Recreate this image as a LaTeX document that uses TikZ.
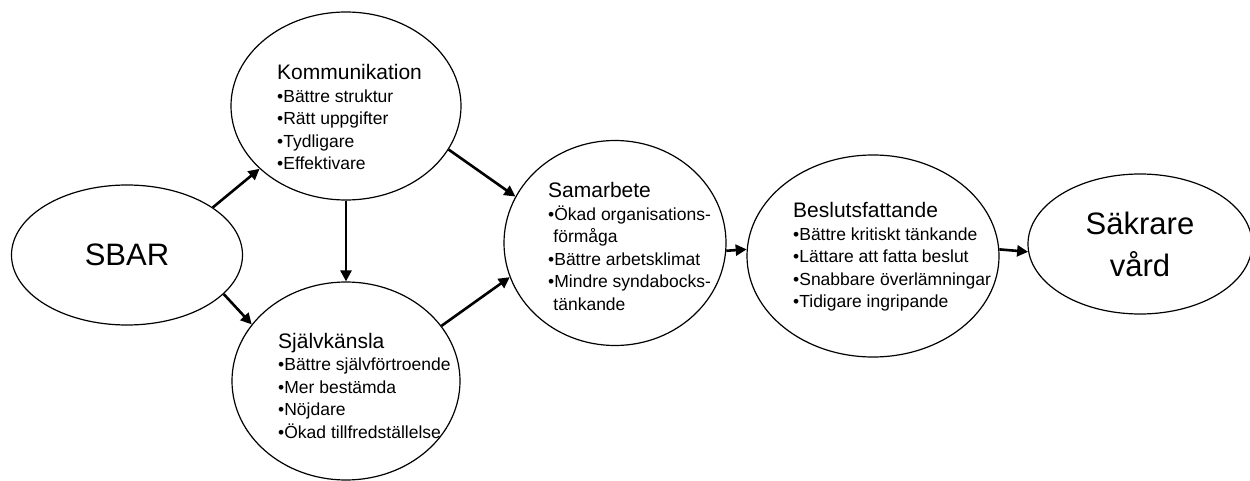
\documentclass[tikz,border=0pt]{standalone}
\usepackage{fontspec}
\setmainfont{Liberation Sans}
\usetikzlibrary{shapes.geometric,arrows.meta}
\begin{document}
\begin{tikzpicture}[x=1pt,y=-1pt,
  bubble/.style={draw, ellipse, line width=1.2pt, inner sep=0pt},
  conn/.style={line width=2.6pt, -{Triangle[length=11pt,width=11pt]}},
  blk/.style={anchor=base west, inner sep=0pt, font=\fontsize{17.5}{22.5}\selectfont}
]
\useasboundingbox (0,0) rectangle (1250,481);

% bubbles
\node[bubble, minimum width=231pt, minimum height=140pt, font=\fontsize{31}{36}\selectfont] (sbar) at (127,255) {SBAR};
\node[bubble, minimum width=230pt, minimum height=188pt] (komm) at (346,106) {};
\node[bubble, minimum width=228pt, minimum height=198pt] (selv) at (346,381) {};
\node[bubble, minimum width=222pt, minimum height=205pt] (sam) at (615,243) {};
\node[bubble, minimum width=252pt, minimum height=202pt] (besl) at (873,256) {};
\node[bubble, minimum width=224pt, minimum height=140pt, align=center, font=\fontsize{31}{42}\selectfont] (sak) at (1140,244) {Säkrare\\vård};

% texts inside the bubbles
\node[blk] (kommtxt) at (277,80) {\begin{tabular}[t]{@{}l@{}}{\fontsize{21}{22.5}\selectfont Kommunikation}\\ •Bättre struktur\\ •Rätt uppgifter\\ •Tydligare\\ •Effektivare\end{tabular}};
\node[blk] (selvtxt) at (278,348) {\begin{tabular}[t]{@{}l@{}}{\fontsize{21}{22.5}\selectfont Självkänsla}\\ •Bättre självförtroende\\ •Mer bestämda\\ •Nöjdare\\ •Ökad tillfredställelse\end{tabular}};
\node[blk] (samtxt) at (548,198) {\begin{tabular}[t]{@{}l@{}}{\fontsize{21}{22.5}\selectfont Samarbete}\\ •Ökad organisations-\\ \hspace{0.3em}förmåga\\ •Bättre arbetsklimat\\ •Mindre syndabocks-\\ \hspace{0.3em}tänkande\end{tabular}};
\node[blk] (besltxt) at (793,218) {\begin{tabular}[t]{@{}l@{}}{\fontsize{21}{22.5}\selectfont Beslutsfattande}\\ •Bättre kritiskt tänkande\\ •Lättare att fatta beslut\\ •Snabbare överlämningar\\ •Tidigare ingripande\end{tabular}};

% connectors
\draw[conn] (sbar.29) -- (komm.216);
\draw[conn] (sbar.-22) -- (selv.149);
\draw[conn] (komm.south) -- (selv.north);
\draw[conn] (komm.-23) -- (sam.155);
\draw[conn] (selv.30) -- (sam.198);
\draw[conn] (sam.-4) -- (besl.177);
\draw[conn] (besl.3) -- (sak.184);
\end{tikzpicture}
\end{document}
